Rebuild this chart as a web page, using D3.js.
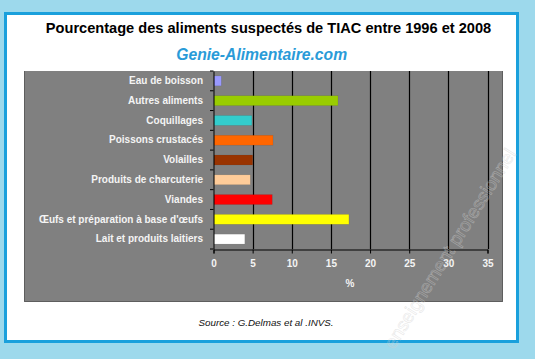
<!DOCTYPE html>
<html><head><meta charset="utf-8">
<script src="https://cdn.jsdelivr.net/npm/d3@7"></script>
<style>
html,body{margin:0;padding:0;background:#9dd9ec;}
svg{display:block;}
</style></head>
<body>
<svg id="c" width="535" height="359"></svg>
<script>
const categories = ["Eau de boisson","Autres aliments","Coquillages","Poissons crustacés","Volailles","Produits de charcuterie","Viandes","Œufs et préparation à base d'œufs","Lait et produits laitiers"];
const values = [1.0, 15.9, 4.9, 7.6, 5.0, 4.7, 7.5, 17.3, 4.0];
const colors = ["#9999ff","#99cc00","#33cccc","#ff6600","#993300","#ffcc99","#ff0000","#ffff00","#ffffff"];
const xTicks = [0,5,10,15,20,25,30,35];

const FONT = "Liberation Sans, Arial, sans-serif";
const svg = d3.select("#c");
svg.append("rect").attr("x",0).attr("y",0).attr("width",535).attr("height",359).attr("fill","#9dd9ec");
svg.append("rect").attr("x",5.5).attr("y",13.5).attr("width",512).attr("height",328)
  .attr("fill","#ffffff").attr("stroke","#1aa0dc").attr("stroke-width",3);

svg.append("text").attr("x",268.5).attr("y",33).attr("text-anchor","middle")
  .attr("font-family",FONT).attr("font-weight","bold").attr("font-size",14.6)
  .attr("fill","#000").text("Pourcentage des aliments suspectés de TIAC entre 1996 et 2008");
svg.append("text").attr("x",261.7).attr("y",60).attr("text-anchor","middle")
  .attr("font-family",FONT).attr("font-weight","bold").attr("font-style","italic").attr("font-size",15.7)
  .attr("fill","#2a9bd8").text("Genie-Alimentaire.com");

// plot panel
svg.append("rect").attr("x",24).attr("y",71).attr("width",479).attr("height",231)
  .attr("fill","#808080");
svg.append("path").attr("d","M24.5,71 V301.5 H502.5 V71").attr("fill","none")
  .attr("stroke","#5e5e5e").attr("stroke-width",1);

const x = d3.scaleLinear().domain([0,35]).range([213.5,487.5]);
const y = d3.scaleBand().domain(categories).range([71,249]).paddingInner(0.5).paddingOuter(0.25);
const band = d3.scaleBand().domain(categories).range([71,249]);

// gridlines
svg.append("g").selectAll("line").data(xTicks.slice(1)).join("line")
  .attr("x1",d=>Math.round(x(d))+0.5).attr("x2",d=>Math.round(x(d))+0.5)
  .attr("y1",71).attr("y2",249).attr("stroke","#000").attr("stroke-width",1.2);

// bars
svg.append("g").selectAll("rect").data(categories).join("rect")
  .attr("x",x(0)+0.5).attr("y",d=>y(d)).attr("width",(d,i)=>x(values[i])-x(0)-0.5)
  .attr("height",y.bandwidth()).attr("fill",(d,i)=>colors[i])
  .attr("stroke","rgba(0,0,0,0.15)").attr("stroke-width",0.5);

// axes
const xAxis = d3.axisBottom(x).tickValues(xTicks).tickSize(4).tickPadding(6);
const gx = svg.append("g").attr("transform","translate(0,249.5)").call(xAxis);
gx.select(".domain").attr("stroke","#000");
gx.selectAll(".tick line").attr("stroke","#000");
gx.selectAll("text").attr("fill","#f4f4f4").attr("font-family",FONT)
  .attr("font-weight","bold").attr("font-size",10);

const yAxis = d3.axisLeft(band).tickSize(0).tickPadding(10.5);
const gy = svg.append("g").attr("transform","translate(213.5,0)").call(yAxis);
gy.select(".domain").attr("stroke","#000");
gy.selectAll("text").attr("fill","#f4f4f4").attr("font-family",FONT)
  .attr("font-weight","bold").attr("font-size",10);
// band boundary ticks
svg.append("g").selectAll("line").data(d3.range(categories.length+1)).join("line")
  .attr("x1",210).attr("x2",213.5)
  .attr("y1",i=>71+i*band.step()).attr("y2",i=>71+i*band.step())
  .attr("stroke","#000").attr("stroke-width",1);

svg.append("text").attr("x",350).attr("y",287).attr("text-anchor","middle")
  .attr("font-family",FONT).attr("font-weight","bold").attr("font-size",10)
  .attr("fill","#f4f4f4").text("%");

svg.append("text").attr("x",266).attr("y",325.5).attr("text-anchor","middle")
  .attr("font-family",FONT).attr("font-style","italic").attr("font-size",9.8)
  .attr("fill","#111").text("Source : G.Delmas et al .INVS.");

// faint watermark
svg.append("text").attr("transform","translate(394,350) rotate(-58)")
  .attr("font-family",FONT).attr("font-size",18.5).attr("fill","none")
  .attr("stroke","#d0d0d0").attr("stroke-width",0.6).attr("stroke-opacity",0.5)
  .text("enseignement professionnel");
</script>
</body></html>
